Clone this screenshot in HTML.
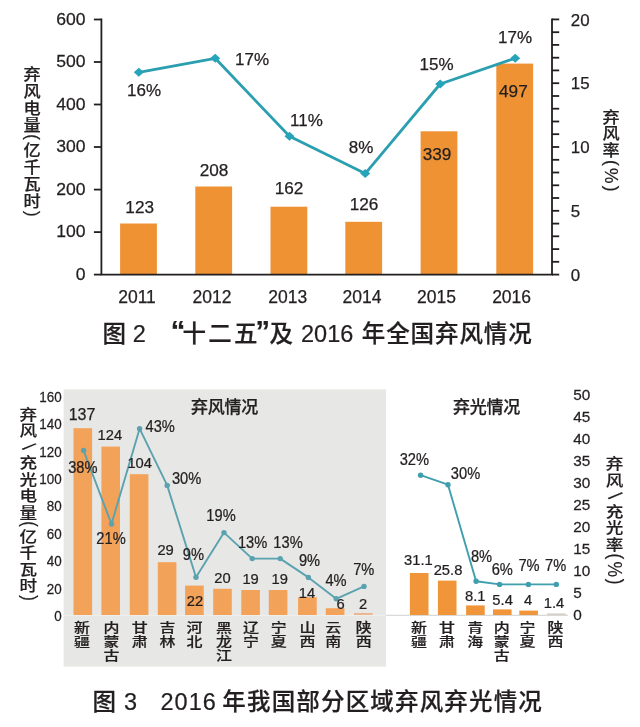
<!DOCTYPE html>
<html lang="zh-CN"><head><meta charset="utf-8"><title>弃风弃光情况</title>
<style>html,body{margin:0;padding:0;background:#fff}body{width:640px;height:727px;overflow:hidden}svg{display:block;font-family:"Liberation Sans", "Noto Sans CJK SC", sans-serif;filter:blur(.45px)}#chart1 text{stroke:#231f20;stroke-width:.25px}#chart2 text{stroke:#231f20;stroke-width:.25px}#caption1 text,#caption2 text{stroke:#231f20;stroke-width:.22px}</style>
</head><body>
<svg width="640" height="727" viewBox="0 0 640 727">
<rect width="640" height="727" fill="#ffffff"/>
<g id="chart1">
<rect x="120.1" y="223.5" width="36.8" height="51.1" fill="#ee9233"/>
<rect x="195.3" y="186.5" width="36.8" height="88.1" fill="#ee9233"/>
<rect x="270.5" y="206.7" width="36.8" height="67.9" fill="#ee9233"/>
<rect x="345.3" y="221.8" width="36.8" height="52.8" fill="#ee9233"/>
<rect x="420.6" y="131.3" width="36.8" height="143.3" fill="#ee9233"/>
<rect x="496.3" y="63.6" width="36.8" height="211.0" fill="#ee9233"/>
<path d="M101.4 18.6 V274.6 H552 V18.6" fill="none" stroke="#231f20" stroke-width="1.8"/>
<path d="M93.9 274.6 H101.4" stroke="#231f20" stroke-width="1.8"/>
<text transform="translate(85.6 280.0) scale(1.04 1)" font-size="16.9" text-anchor="end" fill="#231f20">0</text>
<path d="M93.9 232.1 H101.4" stroke="#231f20" stroke-width="1.8"/>
<text transform="translate(85.6 237.4) scale(1.04 1)" font-size="16.9" text-anchor="end" fill="#231f20">100</text>
<path d="M93.9 189.6 H101.4" stroke="#231f20" stroke-width="1.8"/>
<text transform="translate(85.6 194.9) scale(1.04 1)" font-size="16.9" text-anchor="end" fill="#231f20">200</text>
<path d="M93.9 147.0 H101.4" stroke="#231f20" stroke-width="1.8"/>
<text transform="translate(85.6 152.4) scale(1.04 1)" font-size="16.9" text-anchor="end" fill="#231f20">300</text>
<path d="M93.9 104.5 H101.4" stroke="#231f20" stroke-width="1.8"/>
<text transform="translate(85.6 109.9) scale(1.04 1)" font-size="16.9" text-anchor="end" fill="#231f20">400</text>
<path d="M93.9 62.0 H101.4" stroke="#231f20" stroke-width="1.8"/>
<text transform="translate(85.6 67.4) scale(1.04 1)" font-size="16.9" text-anchor="end" fill="#231f20">500</text>
<path d="M93.9 19.5 H101.4" stroke="#231f20" stroke-width="1.8"/>
<text transform="translate(85.6 24.8) scale(1.04 1)" font-size="16.9" text-anchor="end" fill="#231f20">600</text>
<path d="M552 274.6 H559.2" stroke="#231f20" stroke-width="1.8"/>
<path d="M552 261.8 H559.2" stroke="#231f20" stroke-width="1.8"/>
<path d="M552 249.1 H559.2" stroke="#231f20" stroke-width="1.8"/>
<path d="M552 236.3 H559.2" stroke="#231f20" stroke-width="1.8"/>
<path d="M552 223.6 H559.2" stroke="#231f20" stroke-width="1.8"/>
<path d="M552 210.8 H559.2" stroke="#231f20" stroke-width="1.8"/>
<path d="M552 198.0 H559.2" stroke="#231f20" stroke-width="1.8"/>
<path d="M552 185.3 H559.2" stroke="#231f20" stroke-width="1.8"/>
<path d="M552 172.5 H559.2" stroke="#231f20" stroke-width="1.8"/>
<path d="M552 159.8 H559.2" stroke="#231f20" stroke-width="1.8"/>
<path d="M552 147.0 H559.2" stroke="#231f20" stroke-width="1.8"/>
<path d="M552 134.2 H559.2" stroke="#231f20" stroke-width="1.8"/>
<path d="M552 121.5 H559.2" stroke="#231f20" stroke-width="1.8"/>
<path d="M552 108.7 H559.2" stroke="#231f20" stroke-width="1.8"/>
<path d="M552 96.0 H559.2" stroke="#231f20" stroke-width="1.8"/>
<path d="M552 83.2 H559.2" stroke="#231f20" stroke-width="1.8"/>
<path d="M552 70.4 H559.2" stroke="#231f20" stroke-width="1.8"/>
<path d="M552 57.7 H559.2" stroke="#231f20" stroke-width="1.8"/>
<path d="M552 44.9 H559.2" stroke="#231f20" stroke-width="1.8"/>
<path d="M552 32.2 H559.2" stroke="#231f20" stroke-width="1.8"/>
<path d="M552 19.4 H559.2" stroke="#231f20" stroke-width="1.8"/>
<text x="570.8" y="280.7" font-size="16.9" text-anchor="start" fill="#231f20">0</text>
<text x="570.8" y="216.9" font-size="16.9" text-anchor="start" fill="#231f20">5</text>
<text x="570.8" y="153.1" font-size="16.9" text-anchor="start" fill="#231f20">10</text>
<text x="570.8" y="89.3" font-size="16.9" text-anchor="start" fill="#231f20">15</text>
<text x="570.8" y="25.5" font-size="16.9" text-anchor="start" fill="#231f20">20</text>
<text x="137.0" y="303.3" font-size="17.5" text-anchor="middle" fill="#231f20">2011</text>
<text x="212.0" y="303.3" font-size="17.5" text-anchor="middle" fill="#231f20">2012</text>
<text x="287.8" y="303.3" font-size="17.5" text-anchor="middle" fill="#231f20">2013</text>
<text x="362.0" y="303.3" font-size="17.5" text-anchor="middle" fill="#231f20">2014</text>
<text x="436.5" y="303.3" font-size="17.5" text-anchor="middle" fill="#231f20">2015</text>
<text x="511.6" y="303.3" font-size="17.5" text-anchor="middle" fill="#231f20">2016</text>
<polyline points="138.8,72.3 215.2,58.3 289.5,136.3 365.2,173.6 440.2,84 515.2,58.2" fill="none" stroke="#2b9fb0" stroke-width="2.8" stroke-linejoin="round"/>
<path d="M133.8 72.3 L138.8 67.8 L143.8 72.3 L138.8 76.8Z" fill="#26a4b9"/>
<path d="M210.2 58.3 L215.2 53.8 L220.2 58.3 L215.2 62.8Z" fill="#26a4b9"/>
<path d="M284.5 136.3 L289.5 131.8 L294.5 136.3 L289.5 140.8Z" fill="#26a4b9"/>
<path d="M360.2 173.6 L365.2 169.1 L370.2 173.6 L365.2 178.1Z" fill="#26a4b9"/>
<path d="M435.2 84.0 L440.2 79.5 L445.2 84.0 L440.2 88.5Z" fill="#26a4b9"/>
<path d="M510.2 58.2 L515.2 53.7 L520.2 58.2 L515.2 62.7Z" fill="#26a4b9"/>
<text x="139.7" y="213.4" font-size="17.2" text-anchor="middle" fill="#231f20">123</text>
<text x="214.1" y="176.4" font-size="17.2" text-anchor="middle" fill="#231f20">208</text>
<text x="289.0" y="194.2" font-size="17.2" text-anchor="middle" fill="#231f20">162</text>
<text x="364.0" y="209.7" font-size="17.2" text-anchor="middle" fill="#231f20">126</text>
<text x="437.0" y="160.0" font-size="17.2" text-anchor="middle" fill="#231f20">339</text>
<text x="513.4" y="97.2" font-size="17.2" text-anchor="middle" fill="#231f20">497</text>
<text x="144.0" y="96.1" font-size="17.0" text-anchor="middle" fill="#231f20">16%</text>
<text x="252.0" y="65.1" font-size="17.0" text-anchor="middle" fill="#231f20">17%</text>
<text x="306.5" y="126.1" font-size="17.0" text-anchor="middle" fill="#231f20">11%</text>
<text x="361.0" y="153.1" font-size="17.0" text-anchor="middle" fill="#231f20">8%</text>
<text x="436.5" y="69.5" font-size="17.0" text-anchor="middle" fill="#231f20">15%</text>
<text x="515.0" y="43.1" font-size="17.0" text-anchor="middle" fill="#231f20">17%</text>
</g>
<text transform="translate(32.0 65.0) scale(1 0.93)" font-size="17.2" fill="#231f20" stroke="#231f20" stroke-width="0.22" text-anchor="middle" font-weight="500"><tspan rotate="0" x="0" y="15.7">弃</tspan><tspan rotate="0" x="0" y="34.0">风</tspan><tspan rotate="0" x="0" y="52.2">电</tspan><tspan rotate="0" x="0" y="70.5">量</tspan><tspan text-anchor="start" rotate="90" font-weight="400" font-size="18.3" x="-4.7" y="74.5">(</tspan><tspan rotate="0" x="0" y="97.7">亿</tspan><tspan rotate="0" x="0" y="116.0">千</tspan><tspan rotate="0" x="0" y="134.2">瓦</tspan><tspan rotate="0" x="0" y="152.5">时</tspan><tspan text-anchor="start" rotate="90" font-weight="400" font-size="18.3" x="-4.7" y="157.0">)</tspan></text>
<text transform="translate(611.0 108.1) scale(1 0.93)" font-size="17.2" fill="#231f20" stroke="#231f20" stroke-width="0.22" text-anchor="middle" font-weight="500"><tspan rotate="0" x="0" y="15.5">弃</tspan><tspan rotate="0" x="0" y="33.5">风</tspan><tspan rotate="0" x="0" y="51.4">率</tspan><tspan text-anchor="start" rotate="90" font-weight="400" font-size="18.8" x="-4.8" y="55.8">(</tspan><tspan text-anchor="start" rotate="90" font-weight="400" font-size="18.8" x="-6.0" y="64.3">%</tspan><tspan text-anchor="start" rotate="90" font-weight="400" font-size="18.8" x="-4.8" y="83.4">)</tspan></text>
<g id="caption1"><text fill="#231f20" text-anchor="start" xml:space="preserve"><tspan x="102.4" y="341.6" font-size="23.5" font-weight="500" letter-spacing="0">图</tspan> <tspan x="132.8" y="341.6" font-size="23.5" font-weight="400" letter-spacing="0">2</tspan>  <tspan x="170.8" y="341.1" font-size="29" font-weight="700" letter-spacing="0">“</tspan><tspan x="182.6" y="341.6" font-size="23.5" font-weight="500" letter-spacing="2.2">十二五</tspan><tspan x="255.6" y="341.1" font-size="29" font-weight="700" letter-spacing="0">”</tspan><tspan x="269.5" y="341.6" font-size="23.5" font-weight="500" letter-spacing="0">及</tspan> <tspan x="301.0" y="341.6" font-size="23.5" font-weight="400" letter-spacing="0">2016</tspan> <tspan x="361.8" y="341.6" font-size="23.5" font-weight="500" letter-spacing="0.9">年全国弃风情况</tspan></text></g>
<g id="chart2">
<rect x="63.6" y="389.4" width="322.4" height="277.2" fill="#e7e7e5"/>
<path d="M63.6 615.3 H386" stroke="#f0f0ee" stroke-width="1.1"/>
<path d="M386 615.3 H568" stroke="#d9d9d7" stroke-width="1.3"/>
<rect x="73.5" y="428.2" width="18.6" height="186.8" fill="#f3a259"/>
<rect x="101.4" y="446.6" width="18.6" height="168.4" fill="#f3a259"/>
<rect x="129.8" y="474.2" width="18.6" height="140.8" fill="#f3a259"/>
<rect x="157.8" y="562.2" width="18.6" height="52.8" fill="#f3a259"/>
<rect x="185.1" y="585.6" width="18.6" height="29.4" fill="#f3a259"/>
<rect x="213.2" y="588.8" width="18.6" height="26.2" fill="#f3a259"/>
<rect x="241.3" y="590.0" width="18.6" height="25.0" fill="#f3a259"/>
<rect x="268.8" y="590.0" width="18.6" height="25.0" fill="#f3a259"/>
<rect x="298.1" y="597.2" width="18.6" height="17.8" fill="#f3a259"/>
<rect x="325.8" y="608.2" width="18.6" height="6.8" fill="#f3a259"/>
<rect x="354.0" y="613.0" width="18.6" height="2.0" fill="#ecb690"/>
<rect x="409.9" y="573.0" width="18.6" height="42.0" fill="#f09539"/>
<rect x="437.9" y="580.6" width="18.6" height="34.4" fill="#f09539"/>
<rect x="466.1" y="605.4" width="18.6" height="9.6" fill="#f09539"/>
<rect x="493.0" y="609.4" width="18.6" height="5.6" fill="#f09539"/>
<rect x="519.3" y="610.6" width="18.6" height="4.4" fill="#f09539"/>
<rect x="547.1" y="613.4" width="18.6" height="1.6" fill="#d8cfc6"/>
<text transform="translate(61.6 620.9) scale(0.92 1)" font-size="14.6" text-anchor="end" fill="#231f20">0</text>
<text transform="translate(61.6 593.5) scale(0.92 1)" font-size="14.6" text-anchor="end" fill="#231f20">20</text>
<text transform="translate(61.6 566.1) scale(0.92 1)" font-size="14.6" text-anchor="end" fill="#231f20">40</text>
<text transform="translate(61.6 538.7) scale(0.92 1)" font-size="14.6" text-anchor="end" fill="#231f20">60</text>
<text transform="translate(61.6 511.3) scale(0.92 1)" font-size="14.6" text-anchor="end" fill="#231f20">80</text>
<text transform="translate(61.6 483.9) scale(0.92 1)" font-size="14.6" text-anchor="end" fill="#231f20">100</text>
<text transform="translate(61.6 456.5) scale(0.92 1)" font-size="14.6" text-anchor="end" fill="#231f20">120</text>
<text transform="translate(61.6 429.1) scale(0.92 1)" font-size="14.6" text-anchor="end" fill="#231f20">140</text>
<text transform="translate(61.6 401.7) scale(0.92 1)" font-size="14.6" text-anchor="end" fill="#231f20">160</text>
<text transform="translate(573.2 620.4) scale(1.05 1)" font-size="14.6" text-anchor="start" fill="#231f20">0</text>
<text transform="translate(573.2 598.4) scale(1.05 1)" font-size="14.6" text-anchor="start" fill="#231f20">5</text>
<text transform="translate(573.2 576.4) scale(1.05 1)" font-size="14.6" text-anchor="start" fill="#231f20">10</text>
<text transform="translate(573.2 554.4) scale(1.05 1)" font-size="14.6" text-anchor="start" fill="#231f20">15</text>
<text transform="translate(573.2 532.4) scale(1.05 1)" font-size="14.6" text-anchor="start" fill="#231f20">20</text>
<text transform="translate(573.2 510.4) scale(1.05 1)" font-size="14.6" text-anchor="start" fill="#231f20">25</text>
<text transform="translate(573.2 488.4) scale(1.05 1)" font-size="14.6" text-anchor="start" fill="#231f20">30</text>
<text transform="translate(573.2 466.4) scale(1.05 1)" font-size="14.6" text-anchor="start" fill="#231f20">35</text>
<text transform="translate(573.2 444.4) scale(1.05 1)" font-size="14.6" text-anchor="start" fill="#231f20">40</text>
<text transform="translate(573.2 422.4) scale(1.05 1)" font-size="14.6" text-anchor="start" fill="#231f20">45</text>
<text transform="translate(573.2 400.4) scale(1.05 1)" font-size="14.6" text-anchor="start" fill="#231f20">50</text>
<polyline points="83.6,450.5 111.5,524.0 139.6,428.7 167.2,485.4 196.0,577.2 224.0,532.6 252.2,558.6 280.2,558.6 308.4,577.4 336.2,598.8 364.0,586.4" fill="none" stroke="#5aa2af" stroke-width="1.9" stroke-linejoin="round"/>
<circle cx="83.6" cy="450.5" r="2.7" fill="#5aa2af"/>
<circle cx="111.5" cy="524.0" r="2.7" fill="#5aa2af"/>
<circle cx="139.6" cy="428.7" r="2.7" fill="#5aa2af"/>
<circle cx="167.2" cy="485.4" r="2.7" fill="#5aa2af"/>
<circle cx="196.0" cy="577.2" r="2.7" fill="#5aa2af"/>
<circle cx="224.0" cy="532.6" r="2.7" fill="#5aa2af"/>
<circle cx="252.2" cy="558.6" r="2.7" fill="#5aa2af"/>
<circle cx="280.2" cy="558.6" r="2.7" fill="#5aa2af"/>
<circle cx="308.4" cy="577.4" r="2.7" fill="#5aa2af"/>
<circle cx="336.2" cy="598.8" r="2.7" fill="#5aa2af"/>
<circle cx="364.0" cy="586.4" r="2.7" fill="#5aa2af"/>
<polyline points="420.6,475.2 448.0,484.7 476.1,581.2 499.6,584.4 528.4,584.4 556.3,584.4" fill="none" stroke="#3f9fad" stroke-width="1.9" stroke-linejoin="round"/>
<circle cx="420.6" cy="475.2" r="2.7" fill="#3f9fad"/>
<circle cx="448.0" cy="484.7" r="2.7" fill="#3f9fad"/>
<circle cx="476.1" cy="581.2" r="2.7" fill="#3f9fad"/>
<circle cx="499.6" cy="584.4" r="2.7" fill="#3f9fad"/>
<circle cx="528.4" cy="584.4" r="2.7" fill="#3f9fad"/>
<circle cx="556.3" cy="584.4" r="2.7" fill="#3f9fad"/>
<text x="82.0" y="419.7" font-size="16.0" text-anchor="middle" fill="#231f20">137</text>
<text transform="translate(109.8 440.4) scale(0.97 1)" font-size="15.2" text-anchor="middle" fill="#231f20">124</text>
<text transform="translate(139.7 468.2) scale(0.97 1)" font-size="15.2" text-anchor="middle" fill="#231f20">104</text>
<text transform="translate(165.6 555.4) scale(0.97 1)" font-size="15.2" text-anchor="middle" fill="#231f20">29</text>
<text transform="translate(195.0 605.7) scale(0.97 1)" font-size="15.2" text-anchor="middle" fill="#231f20">22</text>
<text transform="translate(222.5 583.2) scale(0.97 1)" font-size="15.2" text-anchor="middle" fill="#231f20">20</text>
<text transform="translate(250.6 583.8) scale(0.97 1)" font-size="15.2" text-anchor="middle" fill="#231f20">19</text>
<text transform="translate(279.7 583.8) scale(0.97 1)" font-size="15.2" text-anchor="middle" fill="#231f20">19</text>
<text transform="translate(306.9 597.9) scale(0.97 1)" font-size="15.2" text-anchor="middle" fill="#231f20">14</text>
<text transform="translate(340.5 609.4) scale(0.97 1)" font-size="15.2" text-anchor="middle" fill="#231f20">6</text>
<text transform="translate(363.0 609.4) scale(0.97 1)" font-size="15.2" text-anchor="middle" fill="#231f20">2</text>
<text transform="translate(418.4 565.1) scale(0.97 1)" font-size="15.2" text-anchor="middle" fill="#231f20">31.1</text>
<text transform="translate(448.0 575.1) scale(0.97 1)" font-size="15.2" text-anchor="middle" fill="#231f20">25.8</text>
<text transform="translate(475.2 601.4) scale(0.97 1)" font-size="15.2" text-anchor="middle" fill="#231f20">8.1</text>
<text transform="translate(502.6 605.0) scale(0.97 1)" font-size="15.2" text-anchor="middle" fill="#231f20">5.4</text>
<text transform="translate(528.0 605.0) scale(0.97 1)" font-size="15.2" text-anchor="middle" fill="#231f20">4</text>
<text transform="translate(554.0 607.9) scale(0.97 1)" font-size="15.2" text-anchor="middle" fill="#231f20">1.4</text>
<text transform="translate(82.8 472.7) scale(0.94 1)" font-size="15.6" text-anchor="middle" fill="#231f20">38%</text>
<text transform="translate(111.0 544.4) scale(0.94 1)" font-size="15.6" text-anchor="middle" fill="#231f20">21%</text>
<text transform="translate(160.2 431.7) scale(0.94 1)" font-size="15.6" text-anchor="middle" fill="#231f20">43%</text>
<text transform="translate(186.6 483.5) scale(0.94 1)" font-size="15.6" text-anchor="middle" fill="#231f20">30%</text>
<text transform="translate(193.4 560.2) scale(0.94 1)" font-size="15.6" text-anchor="middle" fill="#231f20">9%</text>
<text transform="translate(221.0 521.2) scale(0.94 1)" font-size="15.6" text-anchor="middle" fill="#231f20">19%</text>
<text transform="translate(252.6 548.3) scale(0.94 1)" font-size="15.6" text-anchor="middle" fill="#231f20">13%</text>
<text transform="translate(288.0 548.3) scale(0.94 1)" font-size="15.6" text-anchor="middle" fill="#231f20">13%</text>
<text transform="translate(309.5 566.2) scale(0.94 1)" font-size="15.6" text-anchor="middle" fill="#231f20">9%</text>
<text transform="translate(336.0 586.2) scale(0.94 1)" font-size="15.6" text-anchor="middle" fill="#231f20">4%</text>
<text transform="translate(363.8 575.3) scale(0.94 1)" font-size="15.6" text-anchor="middle" fill="#231f20">7%</text>
<text transform="translate(414.3 464.7) scale(0.94 1)" font-size="15.6" text-anchor="middle" fill="#231f20">32%</text>
<text transform="translate(465.5 478.7) scale(0.94 1)" font-size="15.6" text-anchor="middle" fill="#231f20">30%</text>
<text transform="translate(481.5 561.5) scale(0.94 1)" font-size="15.6" text-anchor="middle" fill="#231f20">8%</text>
<text transform="translate(502.3 575.3) scale(0.94 1)" font-size="15.6" text-anchor="middle" fill="#231f20">6%</text>
<text transform="translate(529.0 571.2) scale(0.94 1)" font-size="15.6" text-anchor="middle" fill="#231f20">7%</text>
<text transform="translate(555.6 571.2) scale(0.94 1)" font-size="15.6" text-anchor="middle" fill="#231f20">7%</text>
<text x="224.5" y="412.5" font-size="17" text-anchor="middle" fill="#231f20" font-weight="500" letter-spacing="-0.3">弃风情况</text>
<text x="486.5" y="412.5" font-size="17" text-anchor="middle" fill="#231f20" font-weight="500" letter-spacing="-0.3">弃光情况</text>
<text transform="translate(82.0 620.5) scale(1 0.79)" font-size="16" fill="#231f20" text-anchor="middle" font-weight="500"><tspan x="0" y="14.8">新</tspan><tspan x="0" y="32.3">疆</tspan></text>
<text transform="translate(111.5 620.5) scale(1 0.79)" font-size="16" fill="#231f20" text-anchor="middle" font-weight="500"><tspan x="0" y="14.8">内</tspan><tspan x="0" y="32.3">蒙</tspan><tspan x="0" y="49.8">古</tspan></text>
<text transform="translate(139.7 620.5) scale(1 0.79)" font-size="16" fill="#231f20" text-anchor="middle" font-weight="500"><tspan x="0" y="14.8">甘</tspan><tspan x="0" y="32.3">肃</tspan></text>
<text transform="translate(167.5 620.5) scale(1 0.79)" font-size="16" fill="#231f20" text-anchor="middle" font-weight="500"><tspan x="0" y="14.8">吉</tspan><tspan x="0" y="32.3">林</tspan></text>
<text transform="translate(194.4 620.5) scale(1 0.79)" font-size="16" fill="#231f20" text-anchor="middle" font-weight="500"><tspan x="0" y="14.8">河</tspan><tspan x="0" y="32.3">北</tspan></text>
<text transform="translate(224.0 620.5) scale(1 0.79)" font-size="16" fill="#231f20" text-anchor="middle" font-weight="500"><tspan x="0" y="14.8">黑</tspan><tspan x="0" y="32.3">龙</tspan><tspan x="0" y="49.8">江</tspan></text>
<text transform="translate(251.0 620.5) scale(1 0.79)" font-size="16" fill="#231f20" text-anchor="middle" font-weight="500"><tspan x="0" y="14.8">辽</tspan><tspan x="0" y="32.3">宁</tspan></text>
<text transform="translate(278.8 620.5) scale(1 0.79)" font-size="16" fill="#231f20" text-anchor="middle" font-weight="500"><tspan x="0" y="14.8">宁</tspan><tspan x="0" y="32.3">夏</tspan></text>
<text transform="translate(307.5 620.5) scale(1 0.79)" font-size="16" fill="#231f20" text-anchor="middle" font-weight="500"><tspan x="0" y="14.8">山</tspan><tspan x="0" y="32.3">西</tspan></text>
<text transform="translate(333.2 620.5) scale(1 0.79)" font-size="16" fill="#231f20" text-anchor="middle" font-weight="500"><tspan x="0" y="14.8">云</tspan><tspan x="0" y="32.3">南</tspan></text>
<text transform="translate(363.8 620.5) scale(1 0.79)" font-size="16" fill="#231f20" text-anchor="middle" font-weight="500"><tspan x="0" y="14.8">陕</tspan><tspan x="0" y="32.3">西</tspan></text>
<text transform="translate(419.0 620.5) scale(1 0.79)" font-size="16" fill="#231f20" text-anchor="middle" font-weight="500"><tspan x="0" y="14.8">新</tspan><tspan x="0" y="32.3">疆</tspan></text>
<text transform="translate(447.0 620.5) scale(1 0.79)" font-size="16" fill="#231f20" text-anchor="middle" font-weight="500"><tspan x="0" y="14.8">甘</tspan><tspan x="0" y="32.3">肃</tspan></text>
<text transform="translate(475.2 620.5) scale(1 0.79)" font-size="16" fill="#231f20" text-anchor="middle" font-weight="500"><tspan x="0" y="14.8">青</tspan><tspan x="0" y="32.3">海</tspan></text>
<text transform="translate(501.8 620.5) scale(1 0.79)" font-size="16" fill="#231f20" text-anchor="middle" font-weight="500"><tspan x="0" y="14.8">内</tspan><tspan x="0" y="32.3">蒙</tspan><tspan x="0" y="49.8">古</tspan></text>
<text transform="translate(527.5 620.5) scale(1 0.79)" font-size="16" fill="#231f20" text-anchor="middle" font-weight="500"><tspan x="0" y="14.8">宁</tspan><tspan x="0" y="32.3">夏</tspan></text>
<text transform="translate(555.6 620.5) scale(1 0.79)" font-size="16" fill="#231f20" text-anchor="middle" font-weight="500"><tspan x="0" y="14.8">陕</tspan><tspan x="0" y="32.3">西</tspan></text>
</g>
<text transform="translate(28.4 405.8) scale(1 0.86)" font-size="17.6" fill="#231f20" stroke="#231f20" stroke-width="0.18" text-anchor="middle" font-weight="500"><tspan rotate="0" x="0" y="16.3">弃</tspan><tspan rotate="0" x="0" y="35.5">风</tspan><tspan text-anchor="start" rotate="49" font-weight="400" font-size="19.8" x="-6.3" y="50.0">/</tspan><tspan rotate="0" x="0" y="72.9">充</tspan><tspan rotate="0" x="0" y="92.1">光</tspan><tspan rotate="0" x="0" y="111.2">电</tspan><tspan rotate="0" x="0" y="130.4">量</tspan><tspan text-anchor="start" rotate="90" font-weight="400" font-size="19.8" x="-5.0" y="134.3">(</tspan><tspan rotate="0" x="0" y="158.2">亿</tspan><tspan rotate="0" x="0" y="177.4">千</tspan><tspan rotate="0" x="0" y="196.6">瓦</tspan><tspan rotate="0" x="0" y="215.8">时</tspan><tspan text-anchor="start" rotate="90" font-weight="400" font-size="19.8" x="-5.0" y="220.2">)</tspan></text>
<text transform="translate(614.6 455.4) scale(1 0.86)" font-size="17.6" fill="#231f20" stroke="#231f20" stroke-width="0.18" text-anchor="middle" font-weight="500"><tspan rotate="0" x="0" y="16.3">弃</tspan><tspan rotate="0" x="0" y="35.6">风</tspan><tspan text-anchor="start" rotate="49" font-weight="400" font-size="20.3" x="-6.5" y="49.4">/</tspan><tspan rotate="0" x="0" y="71.3">充</tspan><tspan rotate="0" x="0" y="90.6">光</tspan><tspan rotate="0" x="0" y="109.9">率</tspan><tspan text-anchor="start" rotate="90" font-weight="400" font-size="20.3" x="-5.2" y="114.2">(</tspan><tspan text-anchor="start" rotate="90" font-weight="400" font-size="20.3" x="-6.5" y="123.3">%</tspan><tspan text-anchor="start" rotate="90" font-weight="400" font-size="20.3" x="-5.2" y="143.3">)</tspan></text>
<g id="caption2"><text fill="#231f20" text-anchor="start" xml:space="preserve"><tspan x="92.6" y="709.6" font-size="23.5" font-weight="500" letter-spacing="0">图</tspan> <tspan x="124.0" y="709.6" font-size="23.5" font-weight="400" letter-spacing="0">3</tspan>  <tspan x="160.5" y="709.6" font-size="23.5" font-weight="400" letter-spacing="1">2016</tspan> <tspan x="222.3" y="709.6" font-size="23.5" font-weight="500" letter-spacing="1.17">年我国部分区域弃风弃光情况</tspan></text></g>
</svg></body></html>
